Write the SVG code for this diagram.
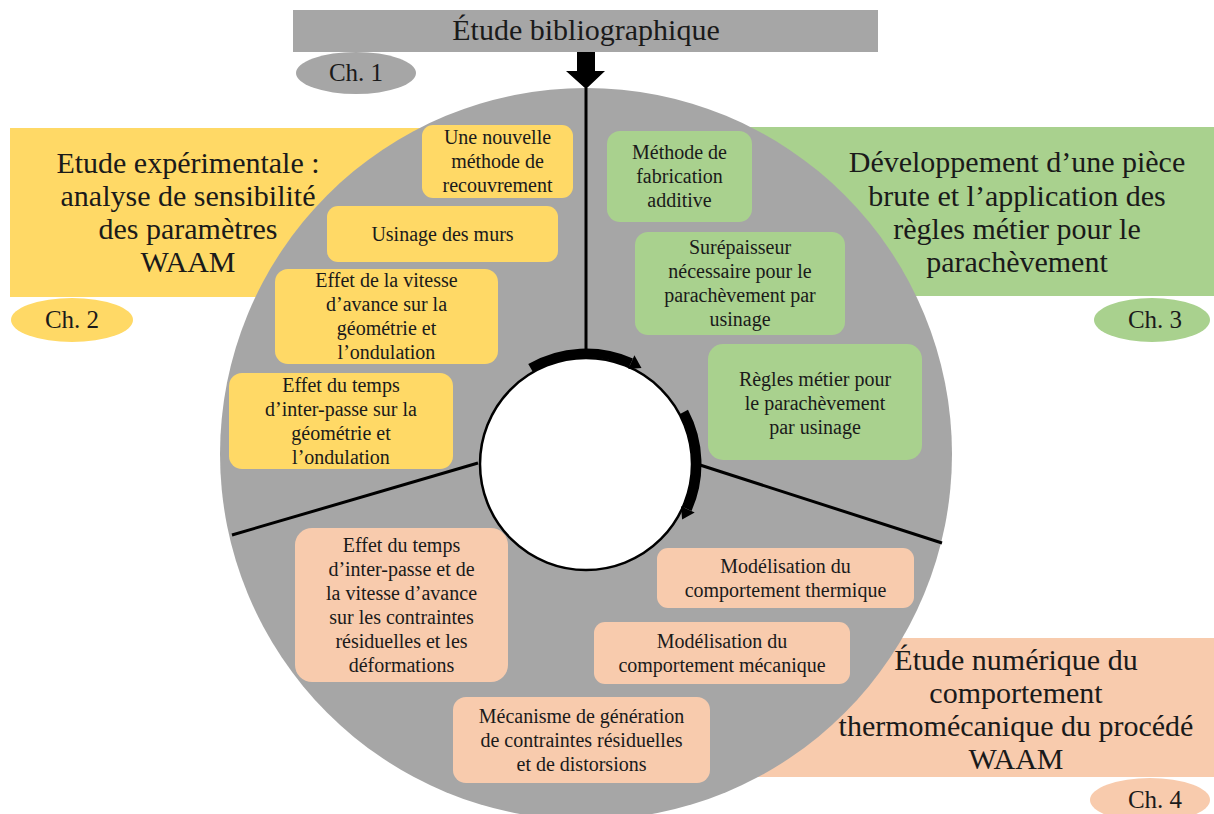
<svg xmlns="http://www.w3.org/2000/svg" width="1214" height="814" viewBox="0 0 1214 814">
<style>
text{font-family:"Liberation Serif","DejaVu Serif",serif;fill:#1a1a1a;text-anchor:middle}
.big{font-size:30px}
.ch{font-size:25px}
.box{font-size:20px}
.y{fill:#FFD966}
.g{fill:#A9D18E}
.p{fill:#F8CBAD}
.gr{fill:#A6A6A6}
.ln{stroke:#000;stroke-width:3;fill:none}
.arc{stroke:#000;stroke-width:9;fill:none}
</style>
<rect width="1214" height="814" fill="#fff"/>

<g id="banner-ch1">
<rect class="gr" x="293" y="10" width="585" height="42"/>
<text class="big" x="586" y="40">Étude bibliographique</text>
<ellipse class="gr" cx="356" cy="73" rx="60" ry="21"/>
<text class="ch" x="356" y="81">Ch. 1</text>
</g>

<g id="banner-ch2">
<rect class="y" x="10" y="128" width="440" height="169"/>
<ellipse class="y" cx="72" cy="320" rx="61" ry="22"/>
<text class="ch" x="72" y="328">Ch. 2</text>
</g>

<g id="banner-ch3">
<rect class="g" x="720" y="127" width="494" height="169"/>
<ellipse class="g" cx="1152" cy="320" rx="58" ry="22"/>
<text class="ch" x="1155" y="328">Ch. 3</text>
</g>

<g id="banner-ch4">
<rect class="p" x="720" y="638" width="494" height="139"/>
<ellipse class="p" cx="1150" cy="800" rx="60" ry="22"/>
<text class="ch" x="1155" y="808">Ch. 4</text>
</g>

<g id="wheel">
<circle class="gr" cx="586" cy="454" r="366"/>
</g>

<g id="banner-texts">
<text class="big" x="188"><tspan x="188" y="173">Etude expérimentale :</tspan><tspan x="188" y="206">analyse de sensibilité</tspan><tspan x="188" y="239">des paramètres</tspan><tspan x="188" y="272">WAAM</tspan></text>
<text class="big" x="1017"><tspan x="1017" y="172">Développement d’une pièce</tspan><tspan x="1017" y="206">brute et l’application des</tspan><tspan x="1017" y="239">règles métier pour le</tspan><tspan x="1017" y="272">parachèvement</tspan></text>
<text class="big" x="1016"><tspan x="1016" y="670">Étude numérique du</tspan><tspan x="1016" y="703">comportement</tspan><tspan x="1016" y="736">thermomécanique du procédé</tspan><tspan x="1016" y="769">WAAM</tspan></text>
</g>

<g id="connectors">
<line class="ln" x1="586" y1="88" x2="586" y2="358"/>
<line class="ln" x1="232" y1="535" x2="478" y2="463"/>
<line class="ln" x1="700" y1="465" x2="942" y2="543"/>
<path d="M577 52H595V71H605L586 89L566 71H577Z" fill="#000"/>
</g>

<g id="hub">
<circle cx="586" cy="464" r="106" fill="#fff" stroke="#000" stroke-width="2.5"/>
</g>

<g id="cycle-arrows">
<path class="arc" d="M530.5 367.9A111 111 0 0 1 631.1 362.6"/>
<path d="M628.3 369L634.4 355.3L641.5 367.9Z" fill="#000"/>
<path class="arc" d="M684 411.9A111 111 0 0 1 687.4 509.1"/>
<path d="M681 506.3L694.7 512.4L682.1 519.5Z" fill="#000"/>
</g>

<g id="y1"><rect class="y" x="422" y="125" width="151" height="73" rx="11"/>
<text class="box"><tspan x="497.5" y="144">Une nouvelle</tspan><tspan x="497.5" y="168">méthode de</tspan><tspan x="497.5" y="192">recouvrement</tspan></text></g>
<g id="y2"><rect class="y" x="327" y="206" width="231" height="56" rx="11"/>
<text class="box" x="442.5" y="240.5">Usinage des murs</text></g>
<g id="y3"><rect class="y" x="275" y="269" width="223" height="95" rx="13"/>
<text class="box"><tspan x="386.5" y="287">Effet de la vitesse</tspan><tspan x="386.5" y="311">d’avance sur la</tspan><tspan x="386.5" y="335">géométrie et</tspan><tspan x="386.5" y="359">l’ondulation</tspan></text></g>
<g id="y4"><rect class="y" x="229" y="373" width="224" height="96" rx="13"/>
<text class="box"><tspan x="341" y="391.5">Effet du temps</tspan><tspan x="341" y="415.5">d’inter-passe sur la</tspan><tspan x="341" y="439.5">géométrie et</tspan><tspan x="341" y="463.5">l’ondulation</tspan></text></g>

<g id="g1"><rect class="g" x="607" y="131" width="145" height="91" rx="13"/>
<text class="box"><tspan x="679.5" y="159">Méthode de</tspan><tspan x="679.5" y="183">fabrication</tspan><tspan x="679.5" y="207">additive</tspan></text></g>
<g id="g2"><rect class="g" x="635" y="232" width="210" height="103" rx="13"/>
<text class="box"><tspan x="740" y="254">Surépaisseur</tspan><tspan x="740" y="278">nécessaire pour le</tspan><tspan x="740" y="302">parachèvement par</tspan><tspan x="740" y="326">usinage</tspan></text></g>
<g id="g3"><rect class="g" x="708" y="344" width="214" height="116" rx="15"/>
<text class="box"><tspan x="815" y="386">Règles métier pour</tspan><tspan x="815" y="410">le parachèvement</tspan><tspan x="815" y="434">par usinage</tspan></text></g>

<g id="p1"><rect class="p" x="295" y="528" width="213" height="154" rx="17"/>
<text class="box"><tspan x="401.5" y="551.5">Effet du temps</tspan><tspan x="401.5" y="575.5">d’inter-passe et de</tspan><tspan x="401.5" y="599.5">la vitesse d’avance</tspan><tspan x="401.5" y="623.5">sur les contraintes</tspan><tspan x="401.5" y="647.5">résiduelles et les</tspan><tspan x="401.5" y="671.5">déformations</tspan></text></g>
<g id="p2"><rect class="p" x="657" y="548" width="257" height="60" rx="11"/>
<text class="box"><tspan x="785.5" y="573">Modélisation du</tspan><tspan x="785.5" y="597">comportement thermique</tspan></text></g>
<g id="p3"><rect class="p" x="594" y="622" width="256" height="62" rx="11"/>
<text class="box"><tspan x="722" y="648">Modélisation du</tspan><tspan x="722" y="672">comportement mécanique</tspan></text></g>
<g id="p4"><rect class="p" x="453" y="697" width="257" height="86" rx="13"/>
<text class="box"><tspan x="581.5" y="722.5">Mécanisme de génération</tspan><tspan x="581.5" y="746.5">de contraintes résiduelles</tspan><tspan x="581.5" y="770.5">et de distorsions</tspan></text></g>
</svg>
